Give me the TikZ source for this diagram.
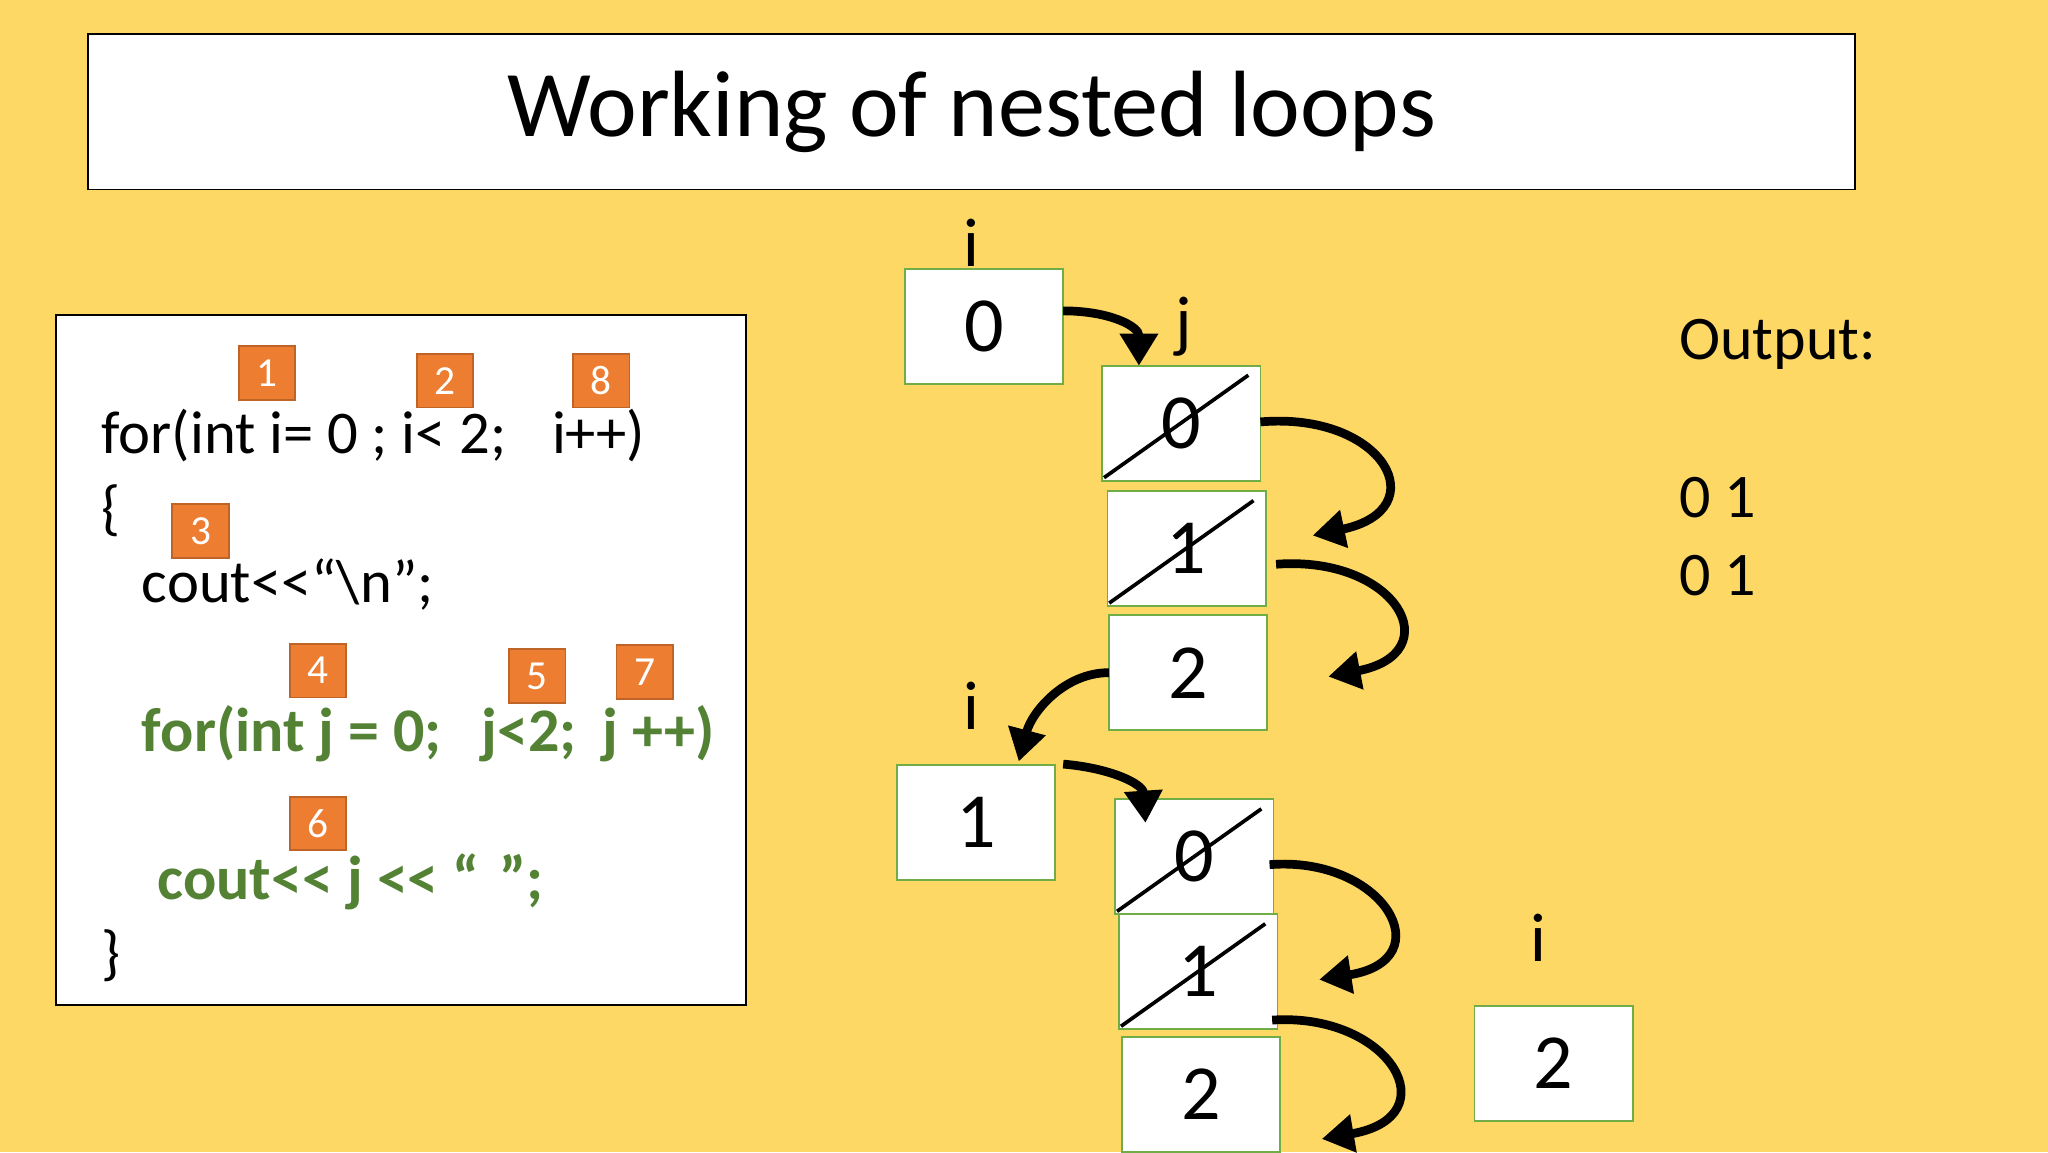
\documentclass[tikz,border=0pt]{standalone}
\usepackage{fontspec}
\setmainfont{Carlito}
\usetikzlibrary{arrows.meta}
\definecolor{slidebg}{HTML}{FDD865}
\definecolor{tagorange}{HTML}{ED7D31}
\definecolor{codegreen}{HTML}{548235}
\definecolor{boxgreen}{HTML}{70AD47}
\newcommand{\shl}{{<}\kern0pt{<}}
\begin{document}
\begin{tikzpicture}[x=0.01cm,y=-0.01cm]
    \tikzstyle{tag}=[fill=tagorange,draw=tagorange!80!black,minimum width=0.43cm,minimum height=0.41cm,inner sep=0pt,text=white,font=\fontsize{9}{9}\selectfont]
    \tikzstyle{code}=[anchor=base west,inner sep=0pt,font=\fontsize{13.2}{13}\selectfont]
    \tikzstyle{gcode}=[code,text=codegreen,font=\fontsize{13.5}{13}\selectfont\bfseries]
    \tikzstyle{cell}=[draw=boxgreen,fill=white,minimum width=1.21cm,minimum height=0.88cm,inner sep=0pt,font=\fontsize{17}{17}\selectfont]
    \tikzstyle{var}=[inner sep=0pt,font=\fontsize{15}{15}\selectfont]
    \tikzstyle{flow}=[line width=1.9pt,-{Triangle[length=7pt,width=8pt]}]

    %% background
    \fill[slidebg] (0,0) rectangle (1568,882);
    \node[draw,fill=white,minimum width=13.52cm,minimum height=1.19cm,font=\fontsize{20.5}{20}\selectfont] (title) at (744,85.5) {Working of nested loops};

    %% code panel
    \node[draw,fill=white,minimum width=5.28cm,minimum height=5.28cm] (panel) at (307,505) {};
    \node[code] (l1) at (77,347) {for(int i= 0 ; i< 2;\hspace{0.35cm}i++)};
    \node[code] (l2) at (77,405) {\{};
    \node[code] (l3) at (108,461) {cout\shl“\textbackslash n”;};
    \node[gcode] (l4) at (108,575) {for(int j = 0;\hspace{0.3cm}j<2;\hspace{0.2cm}j ++)};
    \node[gcode] (l5) at (120,689) {cout\shl{} j \shl{} “\hspace{0.15cm}”;};
    \node[code] (l6) at (77,745) {\}};
    \node[tag] (t1) at (204.5,285.5) {1};
    \node[tag] (t2) at (340.5,291.5) {2};
    \node[tag] (t8) at (460.5,291.5) {8};
    \node[tag] (t3) at (153.5,406.5) {3};
    \node[tag] (t4) at (243.5,513.5) {4};
    \node[tag] (t5) at (411.5,517.5) {5};
    \node[tag] (t7) at (493.5,514.5) {7};
    \node[tag] (t6) at (243.5,630.5) {6};

    %% trace of i and j
    \node[var] (iA) at (744,186) {i};
    \node[cell] (i0) at (753.5,250) {0};
    \node[var] (jA) at (906,250) {j};
    \node[cell] (ja0) at (904.5,324) {0};
    \node[cell] (ja1) at (908.5,420) {1};
    \node[cell] (ja2) at (909.5,515) {2};
    \node[var] (iB) at (744,540) {i};
    \node[cell] (i1) at (747.5,630) {1};
    \node[cell] (jb0) at (914.5,656) {0};
    \node[cell] (jb1) at (917.5,744) {1};
    \node[cell] (jb2) at (919.5,838) {2};
    \node[var] (iC) at (1178,718) {i};
    \node[cell] (i2) at (1189.5,814) {2};

    % crossed out values
    \foreach \c in {ja0,ja1,jb0,jb1}
        \draw[line width=0.8pt] ([shift={(2,-3)}]\c.south west) -- ([shift={(-10,8)}]\c.north east);

    % arrows
    \coordinate (s1) at (814,238);
    \coordinate (e1) at (872,280);
    \coordinate (s2) at (965,323);
    \coordinate (e2) at (1005,410);
    \coordinate (s3) at (977,432);
    \coordinate (e3) at (1017,518);
    \coordinate (s4) at (849,515);
    \coordinate (e4) at (780,583);
    \coordinate (s5) at (814,585);
    \coordinate (e5) at (877,630);
    \coordinate (s6) at (972,662);
    \coordinate (e6) at (1010,750);
    \coordinate (s7) at (974,781);
    \coordinate (e7) at (1012,872);
    \draw[flow] (s1) .. controls (850,238) and (872,250) .. (e1);
    \draw[flow] (s2) .. controls (1060,315) and (1100,390) .. (e2);
    \draw[flow] (s3) .. controls (1070,425) and (1110,500) .. (e3);
    \draw[flow] (s4) .. controls (815,515) and (790,545) .. (e4);
    \draw[flow] (s5) .. controls (850,588) and (875,600) .. (e5);
    \draw[flow] (s6) .. controls (1060,655) and (1105,735) .. (e6);
    \draw[flow] (s7) .. controls (1065,775) and (1110,855) .. (e7);

    %% output
    \node[code,font=\fontsize{13.5}{14}\selectfont] (out) at (1285,275) {Output:};
    \node[code,font=\fontsize{13.5}{14}\selectfont] (o1) at (1285,396) {0 1};
    \node[code,font=\fontsize{13.5}{14}\selectfont] (o2) at (1285,456) {0 1};
\end{tikzpicture}
\end{document}
